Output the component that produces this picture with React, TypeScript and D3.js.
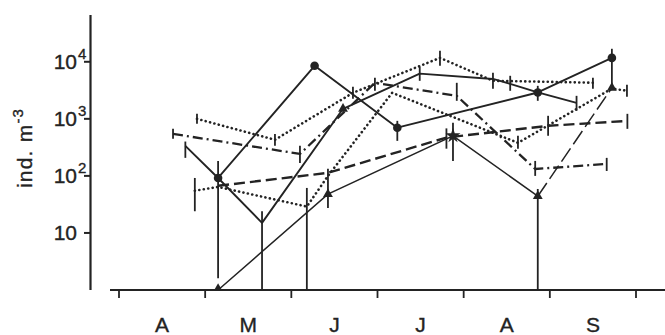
import React from "react";
import * as d3 from "d3";

// Seasonal abundance (ind. m^-3) of several taxa, April–September.
// Each point is [month (fractional, 4 = 1 April), abundance]; 0 means none found.
// Error bars are [month, low, high].

const monthTicks = [4, 5, 6, 7, 8, 9, 10];
const monthLabels = ["A", "M", "J", "J", "A", "S"];
const yTickValues = [10, 100, 1000, 10000];
const yTickExponents = ["", "2", "3", "4"];

// solid line, filled circles
const circlesSeries: [number, number][] = [
  [5.15, 92], [6.27, 8500], [7.23, 700], [8.86, 2900], [9.72, 11700],
];
const circlesErrors: [number, number, number][] = [
  [5.15, 1.6, 183], [7.23, 411, 922], [8.86, 2070, 3790], [9.72, 3790, 16900],
];

// solid line, open ends
const solidSeries: [number, number][] = [
  [4.77, 336], [5.15, 92], [5.66, 15], [6.6, 1500], [7.49, 6200],
  [8.34, 5000], [8.54, 4100], [8.86, 2900], [9.31, 1900],
];
const solidErrors: [number, number, number][] = [
  [4.77, 207, 400], [5.66, 0, 24], [7.49, 4640, 8170], [8.34, 3360, 6410],
  [8.54, 3100, 5680], [9.31, 1380, 2530],
];
const solidMarkers: [number, number][] = [[6.6, 1500]];

// thin line, triangles
const triangleSeries: [number, number][] = [
  [5.15, 0], [6.425, 48], [7.876, 505], [8.86, 44], [9.72, 3500],
];
const triangleErrors: [number, number, number][] = [
  [6.425, 27.5, 133], [7.876, 183, 850], [8.86, 0, 59],
];

// long dashes
const dashedSeries: [number, number][] = [
  [5.15, 67], [6.425, 113], [7.8, 470], [8.98, 755], [9.9, 920],
];
const dashedErrors: [number, number, number][] = [
  [7.8, 300, 680], [8.98, 505, 1130], [9.9, 668, 1224],
];

// dotted, upper
const dottedUpperSeries: [number, number][] = [
  [4.905, 1000], [5.81, 430], [6.715, 2860], [7.725, 11700], [8.34, 4650], [9.5, 4300],
];
const dottedUpperErrors: [number, number, number][] = [
  [4.905, 817, 1224], [5.81, 336, 545], [6.715, 2244, 3640],
  [7.725, 8500, 15600], [9.5, 3360, 5240],
];

// dotted, lower
const dottedLowerSeries: [number, number][] = [
  [4.88, 55], [5.15, 64], [6.18, 29], [6.425, 100], [7.17, 2860],
  [8.63, 380], [9.72, 3400], [9.895, 3100],
];
const dottedLowerErrors: [number, number, number][] = [
  [4.88, 24, 92], [6.18, 0, 61.5], [8.63, 298, 505], [9.895, 2430, 3950],
];

// dash-dot
const dashDotSeries: [number, number][] = [
  [4.627, 545], [6.1, 243], [6.97, 4270], [7.92, 2530], [8.83, 132], [9.66, 162],
];
const dashDotErrors: [number, number, number][] = [
  [4.627, 446, 668], [6.1, 169, 336], [6.97, 3100, 5240], [7.92, 2070, 4280],
  [8.83, 100, 183], [9.66, 122, 207],
];

const W = 665;
const H = 335;
const INK = "#232323";
const FONT = "'Liberation Sans', Arial, sans-serif";

const x = d3.scaleLinear().domain([4, 10]).range([119, 636]);
const y = d3.scaleLog().domain([1, Math.pow(10, 4.82)]).range([290, 15]);
const yv = (v: number) => y(Math.max(v, 1));

const line = d3
  .line<[number, number]>()
  .x((d) => x(d[0]))
  .y((d) => yv(d[1]));

type SeriesDef = {
  key: string;
  pts: [number, number][];
  errs: [number, number, number][];
  width: number;
  dash?: string;
  cap?: "round" | "butt";
};

const seriesDefs: SeriesDef[] = [
  { key: "dashed", pts: dashedSeries, errs: dashedErrors, width: 2.4, dash: "11,5" },
  { key: "dotU", pts: dottedUpperSeries, errs: dottedUpperErrors, width: 2.6, dash: "0.1,4.4", cap: "round" },
  { key: "dotL", pts: dottedLowerSeries, errs: dottedLowerErrors, width: 2.6, dash: "0.1,4.4", cap: "round" },
  { key: "dashDot", pts: dashDotSeries, errs: dashDotErrors, width: 2.3, dash: "10,4,2,4" },
  { key: "solid", pts: solidSeries, errs: solidErrors, width: 1.9 },
  { key: "circles", pts: circlesSeries, errs: circlesErrors, width: 1.9 },
];

const triSymbol = d3.symbol(d3.symbolTriangle, 42)() as string;
const starSymbol = d3.symbol(d3.symbolStar, 70)() as string;
const smallTri = d3.symbol(d3.symbolTriangle, 30)() as string;

const textStroke = { stroke: INK, strokeWidth: 0.35 };

export default function App() {
  const triSolid = triangleSeries.slice(0, 4);
  const triLast = triangleSeries.slice(3);

  return (
    <svg
      width={W}
      height={H}
      style={{ position: "fixed", left: 0, top: 0, background: "#fff" }}
      fontFamily={FONT}
    >
      <rect width={W} height={H} fill="#fff" />

      {/* axes */}
      <line x1={90.5} x2={90.5} y1={15} y2={290} stroke={INK} strokeWidth={2.2} />
      <line x1={110} x2={665} y1={290} y2={290} stroke={INK} strokeWidth={2.2} />
      {yTickValues.map((v) => (
        <line key={"yt" + v} x1={84} x2={90.5} y1={y(v)} y2={y(v)} stroke={INK} strokeWidth={2} />
      ))}
      {monthTicks.map((m) => (
        <line key={"xt" + m} x1={x(m)} x2={x(m)} y1={290} y2={298} stroke={INK} strokeWidth={1.8} />
      ))}

      {/* y tick labels */}
      {yTickValues.map((v, i) => (
        <g key={"yl" + v} fill={INK} {...textStroke}>
          <text x={77} y={y(v) + 7.5} fontSize={21} textAnchor="end">
            10
          </text>
          {yTickExponents[i] && (
            <text x={78} y={y(v) - 3} fontSize={15}>
              {yTickExponents[i]}
            </text>
          )}
        </g>
      ))}

      {/* y axis title */}
      <text
        transform="translate(32,188) rotate(-90)"
        fontSize={21}
        fill={INK}
        letterSpacing={1.2}
        {...textStroke}
      >
        ind. m
        <tspan dy={-9} fontSize={15}>
          -3
        </tspan>
      </text>

      {/* month labels */}
      {monthLabels.map((lab, i) => (
        <text
          key={"ml" + i}
          x={(x(monthTicks[i]) + x(monthTicks[i + 1])) / 2}
          y={332}
          fontSize={21}
          textAnchor="middle"
          fill={INK}
          {...textStroke}
        >
          {lab}
        </text>
      ))}

      {/* series lines */}
      {seriesDefs.map((s) => (
        <path
          key={s.key}
          d={line(s.pts) || ""}
          fill="none"
          stroke={INK}
          strokeWidth={s.width}
          strokeDasharray={s.dash}
          strokeLinecap={s.cap || "butt"}
          strokeLinejoin="round"
        />
      ))}
      <path d={line(triSolid) || ""} fill="none" stroke={INK} strokeWidth={1.5} />
      <path d={line(triLast) || ""} fill="none" stroke={INK} strokeWidth={1.5} strokeDasharray="16,5" />

      {/* error bars */}
      {[...seriesDefs.map((s) => s.errs), triangleErrors].map((errs, si) =>
        errs.map((e, i) => (
          <line
            key={"e" + si + "-" + i}
            x1={x(e[0])}
            x2={x(e[0])}
            y1={yv(e[1])}
            y2={yv(e[2])}
            stroke={INK}
            strokeWidth={1.8}
          />
        ))
      )}

      {/* markers */}
      {circlesSeries.map((p, i) => (
        <circle key={"c" + i} cx={x(p[0])} cy={yv(p[1])} r={4.3} fill={INK} />
      ))}
      {solidMarkers.map((p, i) => (
        <path key={"sm" + i} d={triSymbol} transform={`translate(${x(p[0])},${yv(p[1])})`} fill={INK} />
      ))}
      {triangleSeries.map((p, i) => (
        <path
          key={"t" + i}
          d={i === 2 ? starSymbol : i === 0 ? smallTri : triSymbol}
          transform={`translate(${x(p[0])},${yv(p[1]) - (i === 0 ? 2 : 0)})`}
          fill={INK}
        />
      ))}
    </svg>
  );
}
